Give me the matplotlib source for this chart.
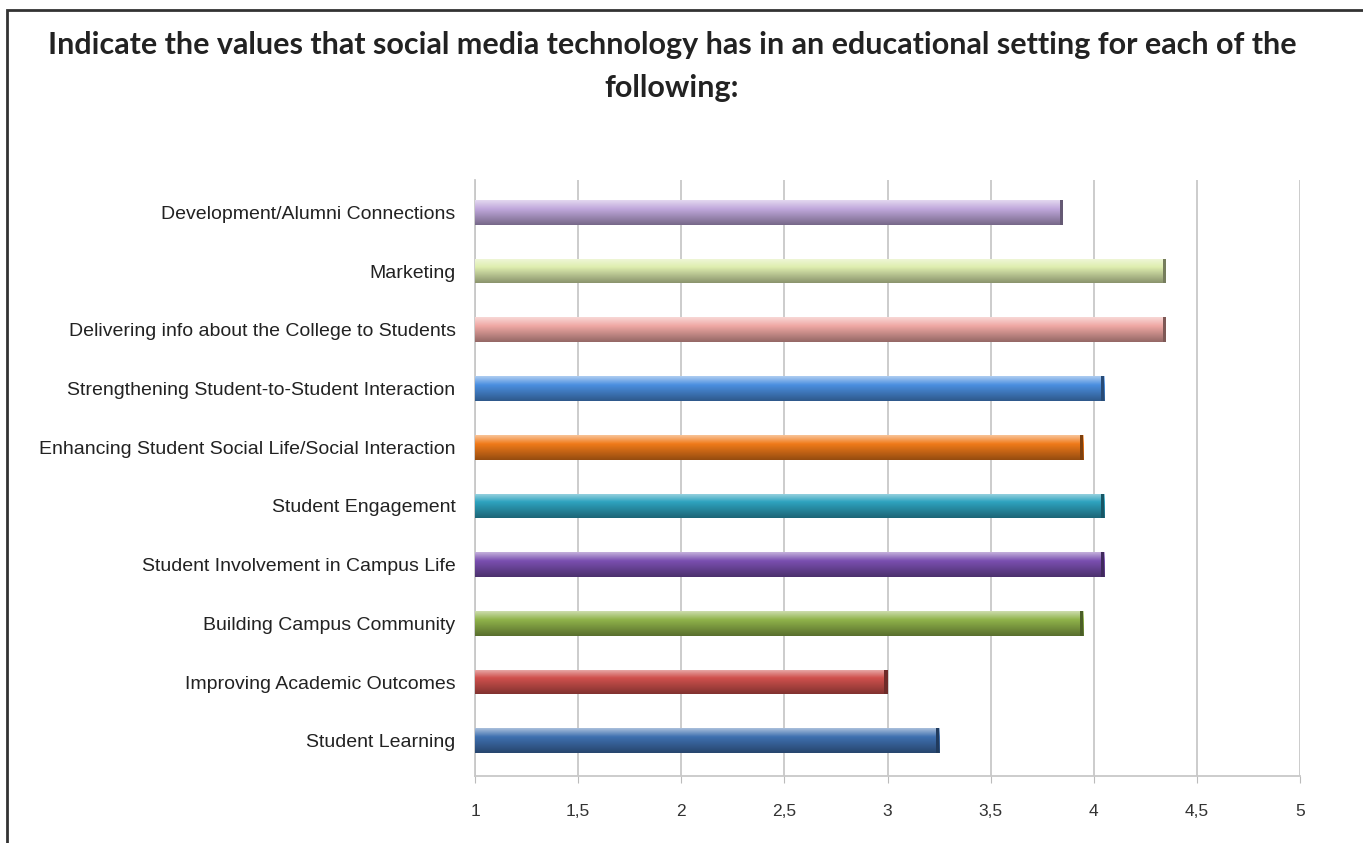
import numpy as np
import matplotlib.pyplot as plt
import matplotlib.colors as mcolors
from matplotlib.patches import Rectangle

categories = [
    "Student Learning",
    "Improving Academic Outcomes",
    "Building Campus Community",
    "Student Involvement in Campus Life",
    "Student Engagement",
    "Enhancing Student Social Life/Social Interaction",
    "Strengthening Student-to-Student Interaction",
    "Delivering info about the College to Students",
    "Marketing",
    "Development/Alumni Connections",
]
values = [3.25, 3.0, 3.95, 4.05, 4.05, 3.95, 4.05, 4.35, 4.35, 3.85]
colors = ["#3f70b0", "#d0514d", "#8fb24a", "#7a4fb0", "#2ea3bf",
          "#f07a1a", "#4b8fe0", "#efa8a4", "#dfeeb0", "#c0a8dc"]
xticks = [1, 1.5, 2, 2.5, 3, 3.5, 4, 4.5, 5]
xticklabels = ["1", "1,5", "2", "2,5", "3", "3,5", "4", "4,5", "5"]

W, H = 1363, 843
fig = plt.figure(figsize=(W / 100, H / 100), dpi=100)
ax = fig.add_axes([475 / W, 1 - 776 / H, 825 / W, (776 - 180) / H])

y = np.arange(len(categories))
bars = ax.barh(y, [v - 1 for v in values], left=1, height=0.42,
               color=colors, edgecolor="none", zorder=3)

# shade each bar like a cylinder: light top, dark bottom
n = 64
for b, c in zip(bars, colors):
    base = np.array(mcolors.to_rgb(c))
    light = base + (1 - base) * 0.55
    dark = base * 0.62
    rgb = np.empty((n, 1, 3))
    for i, t in enumerate(np.linspace(0, 1, n)):
        if t < 0.35:
            s = t / 0.35
            rgb[i, 0] = light * (1 - s) + base * s
        else:
            s = (t - 0.35) / 0.65
            rgb[i, 0] = base * (1 - s) + dark * s
    x0, y0 = b.get_x(), b.get_y()
    w, h = b.get_width(), b.get_height()
    im = ax.imshow(rgb, extent=[x0, x0 + w, y0, y0 + h], aspect="auto",
                   interpolation="bilinear", zorder=4)
    im.set_clip_path(b)
    # darker cap at the bar end
    ax.add_patch(Rectangle((x0 + w - 0.015, y0), 0.015, h,
                           color=dark * 0.85, zorder=5, lw=0))

ax.set_xlim(1, 5)
ax.set_ylim(-0.6, len(categories) - 0.45)
ax.set_xticks(xticks)
ax.set_xticklabels(xticklabels, fontfamily="Liberation Sans",
                   fontsize=12.5, color="#333333")
ax.set_yticks(y)
ax.set_yticklabels(categories, fontfamily="Liberation Sans",
                   fontsize=14, color="#222222")
ax.tick_params(axis="y", length=0, pad=14)
ax.tick_params(axis="x", length=5, color="#bbbbbb", pad=15)
ax.grid(axis="x", color="#c8c8c8", lw=1.3, zorder=0)
for s in ["top", "right"]:
    ax.spines[s].set_visible(False)
for s in ["left", "bottom"]:
    ax.spines[s].set_color("#c8c8c8")
    ax.spines[s].set_linewidth(1.3)

title_kw = dict(ha="center", va="center", fontsize=22, fontweight="bold",
                fontfamily="Lato", color="#222222")
fig.text(0.493, 1 - 45 / H, "Indicate the values that social media technology has in an educational setting for each of the",
         **title_kw)
fig.text(0.493, 1 - 88 / H, "following:", **title_kw)

# outer frame
fig.add_artist(Rectangle((7 / W, -0.1), 1.2, 1 - 10 / H + 0.1,
                         transform=fig.transFigure, fill=False,
                         edgecolor="#333333", lw=2))

fig.savefig("out.png", dpi=100)
